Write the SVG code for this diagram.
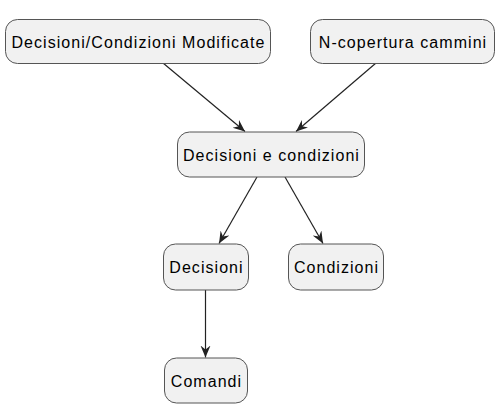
<svg xmlns="http://www.w3.org/2000/svg" width="501" height="408" viewBox="0 0 501 408">
<style>
.node rect{fill:#F1F1F1;stroke:#555555;stroke-width:1}
.node text{font-family:"Liberation Sans",Arial,sans-serif;font-size:16px;letter-spacing:1.05px;fill:#000000;text-anchor:middle}
.edge{stroke:#222222;stroke-width:1.2;fill:none;marker-end:url(#arr)}
</style>
<defs>
<marker id="arr" markerUnits="userSpaceOnUse" markerWidth="13" markerHeight="11" refX="12" refY="5" orient="auto">
<path d="M0,0 L12,5 L0,10 L4,5 Z" fill="#222222"/>
</marker>
</defs>
<g id="connectors">
<line class="edge" x1="163" y1="63" x2="245" y2="131.5"/>
<line class="edge" x1="376" y1="63" x2="296" y2="131.5"/>
<line class="edge" x1="257" y1="177" x2="219" y2="243.5"/>
<line class="edge" x1="285" y1="177" x2="323" y2="243.5"/>
<line class="edge" x1="205.5" y1="290" x2="205.5" y2="357.5"/>
</g>
<g id="n1" class="node"><rect x="5.5" y="19.5" width="265" height="44" rx="12"/><text x="138.5" y="47.5">Decisioni/Condizioni Modificate</text></g>
<g id="n2" class="node"><rect x="310.5" y="19.5" width="184" height="44" rx="12"/><text x="403" y="47.5">N-copertura cammini</text></g>
<g id="n3" class="node"><rect x="177.5" y="132" width="187" height="45" rx="12"/><text x="271.5" y="160.5">Decisioni e condizioni</text></g>
<g id="n4" class="node"><rect x="163.5" y="244" width="85" height="46" rx="12"/><text x="206.5" y="273">Decisioni</text></g>
<g id="n5" class="node"><rect x="288.5" y="244" width="95" height="46" rx="12"/><text x="336.5" y="273">Condizioni</text></g>
<g id="n6" class="node"><rect x="164.5" y="358" width="83" height="45" rx="12"/><text x="206.5" y="386.5">Comandi</text></g>
</svg>
